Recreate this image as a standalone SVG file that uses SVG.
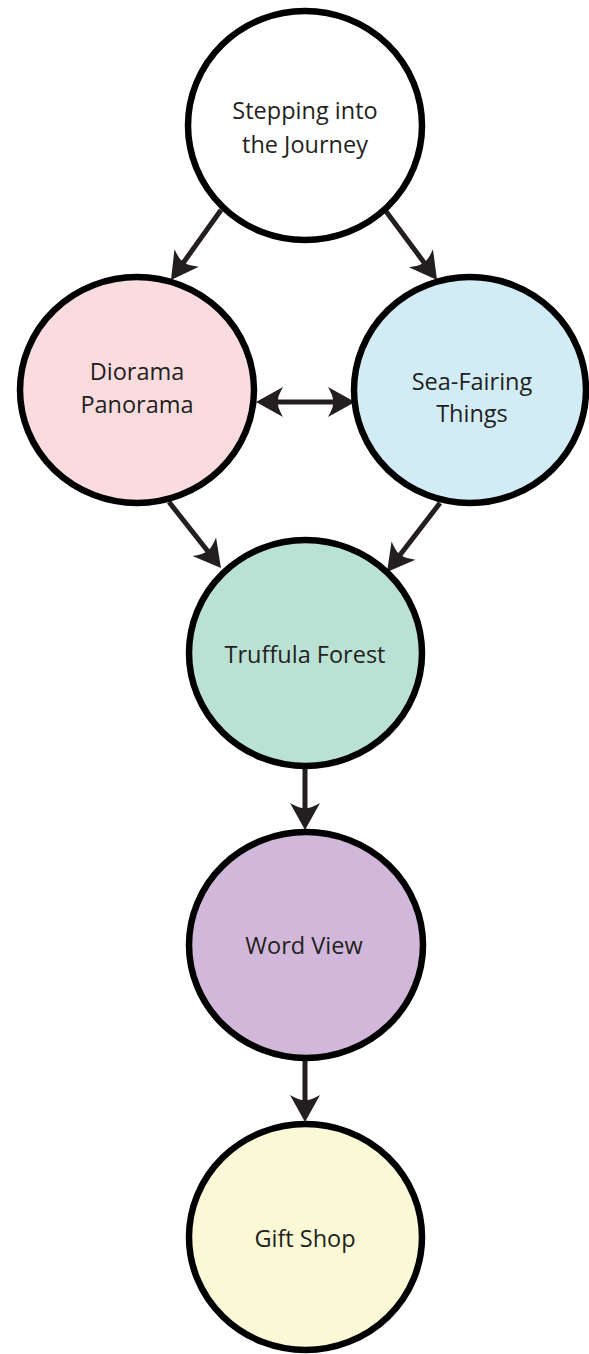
<svg xmlns="http://www.w3.org/2000/svg" width="589" height="1354" viewBox="0 0 589 1354">
<style>
.node{stroke:#000;stroke-width:6.5}
.lbl{font-family:"Open Sans","Liberation Sans",sans-serif;font-size:23.5px;fill:#231f20;text-anchor:middle}
.edge{stroke:#231f20;stroke-width:5;fill:none}
</style>
<defs>
<marker id="ah" viewBox="-10 -16 32 32" markerWidth="32" markerHeight="32" refX="0" refY="0" markerUnits="userSpaceOnUse" orient="auto-start-reverse">
<path d="M20,0 L-7,-15 Q-2,-6 -2,-2.5 L-2,2.5 Q-2,6 -7,15 Z" fill="#231f20"/>
</marker>
</defs>
<rect width="589" height="1354" fill="#fff"/>
<g id="connectors">
<line class="edge" x1="221" y1="210" x2="182.6" y2="263.7" marker-end="url(#ah)"/>
<line class="edge" x1="385" y1="210" x2="425.1" y2="263.9" marker-end="url(#ah)"/>
<line class="edge" x1="276" y1="402" x2="335" y2="402" marker-start="url(#ah)" marker-end="url(#ah)"/>
<line class="edge" x1="169" y1="502" x2="208.6" y2="552.3" marker-end="url(#ah)"/>
<line class="edge" x1="440" y1="503" x2="399.2" y2="556.1" marker-end="url(#ah)"/>
<line class="edge" x1="305" y1="767" x2="305" y2="810" marker-end="url(#ah)"/>
<line class="edge" x1="305" y1="1059" x2="305" y2="1102" marker-end="url(#ah)"/>
</g>
<g id="start">
<ellipse class="node" cx="305" cy="125.5" rx="117" ry="114.5" fill="#fff"/>
<text class="lbl" x="305" y="119">Stepping into</text>
<text class="lbl" x="305" y="153">the Journey</text>
</g>
<g id="diorama">
<ellipse class="node" cx="137" cy="390" rx="117" ry="113" fill="#fadbde"/>
<text class="lbl" x="137" y="380">Diorama</text>
<text class="lbl" x="137" y="413">Panorama</text>
</g>
<g id="seafaring">
<ellipse class="node" cx="470" cy="390" rx="116" ry="113" fill="#d2ecf6"/>
<text class="lbl" x="472" y="390">Sea-Fairing</text>
<text class="lbl" x="472" y="422">Things</text>
</g>
<g id="truffula">
<ellipse class="node" cx="305.5" cy="653" rx="116.5" ry="113" fill="#b9e1d4"/>
<text class="lbl" x="305" y="663">Truffula Forest</text>
</g>
<g id="wordview">
<ellipse class="node" cx="306" cy="945" rx="117" ry="113" fill="#d1b7d9"/>
<text class="lbl" x="304" y="954">Word View</text>
</g>
<g id="giftshop">
<ellipse class="node" cx="305.5" cy="1237" rx="116.5" ry="113" fill="#fbf8d6"/>
<text class="lbl" x="305" y="1247">Gift Shop</text>
</g>
</svg>
